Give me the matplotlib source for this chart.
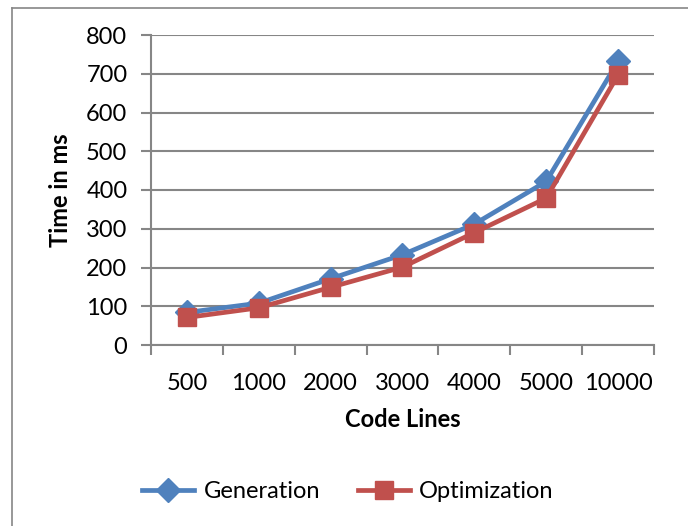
import matplotlib
matplotlib.use("Agg")
import matplotlib.pyplot as plt
from matplotlib.lines import Line2D

categories = ["500", "1000", "2000", "3000", "4000", "5000", "10000"]
generation = [84, 108, 171, 233, 312, 422, 732]
optimization = [71, 96, 149, 201, 290, 379, 697]
yticks = [0, 100, 200, 300, 400, 500, 600, 700, 800]

blue = "#4F81BD"
red = "#C0504D"
grid = "#868686"

plt.rcParams['font.family'] = ['Lato', 'DejaVu Sans']
FS = 17

fig = plt.figure(figsize=(6.88, 5.26), dpi=100)
ax = fig.add_axes([151/688, 1-345/526, (654-151)/688, (345-35)/526])

x = list(range(len(categories)))
ax.plot(x, generation, color=blue, lw=3.4, marker='D', markersize=12,
        markerfacecolor=blue, markeredgecolor=blue, zorder=3, label="Generation")
ax.plot(x, optimization, color=red, lw=3.4, marker='s', markersize=13.5,
        markerfacecolor=red, markeredgecolor=red, zorder=4, label="Optimization")

ax.set_xlim(-0.5, len(categories) - 0.5)
ax.set_ylim(0, 800)
ax.set_yticks(yticks)
ax.set_yticklabels([str(v) for v in yticks], fontsize=FS)
ax.yaxis.grid(True, color=grid, lw=1.5)
ax.set_axisbelow(True)

ax.set_xticks([i - 0.5 for i in range(len(categories) + 1)])
ax.set_xticklabels([])
ax.set_xticks(x, minor=True)
ax.set_xticklabels(categories, minor=True, fontsize=FS)
ax.tick_params(axis='x', which='minor', length=0, pad=20)
ax.tick_params(axis='x', which='major', length=7, width=1.5, color=grid, direction='out')
ax.tick_params(axis='y', length=7, width=1.5, color=grid, direction='out', pad=10)

for s in ['top', 'right']:
    ax.spines[s].set_visible(False)
for s in ['left', 'bottom']:
    ax.spines[s].set_color(grid)
    ax.spines[s].set_linewidth(1.5)

ax.set_ylabel("Time in ms", fontsize=FS, fontweight='bold', labelpad=10)
ax.set_xlabel("Code Lines", fontsize=FS, fontweight='bold', labelpad=10)

handles = [
    Line2D([], [], color=blue, lw=3.4, marker='D', markersize=12),
    Line2D([], [], color=red, lw=3.4, marker='s', markersize=13.5),
]
fig.legend(handles, ["Generation", "Optimization"], loc='center',
           bbox_to_anchor=(348/688, 1-492/526), ncol=2, frameon=False,
           fontsize=FS, handlelength=2.2, handletextpad=0.4, columnspacing=1.6)

# outer chart border
fig.add_artist(Line2D([12/688, 12/688], [0, 1-8/526], color=grid, lw=1.2, transform=fig.transFigure))
fig.add_artist(Line2D([12/688, 1], [1-8/526, 1-8/526], color=grid, lw=1.2, transform=fig.transFigure))

fig.savefig("out.png", dpi=100)
